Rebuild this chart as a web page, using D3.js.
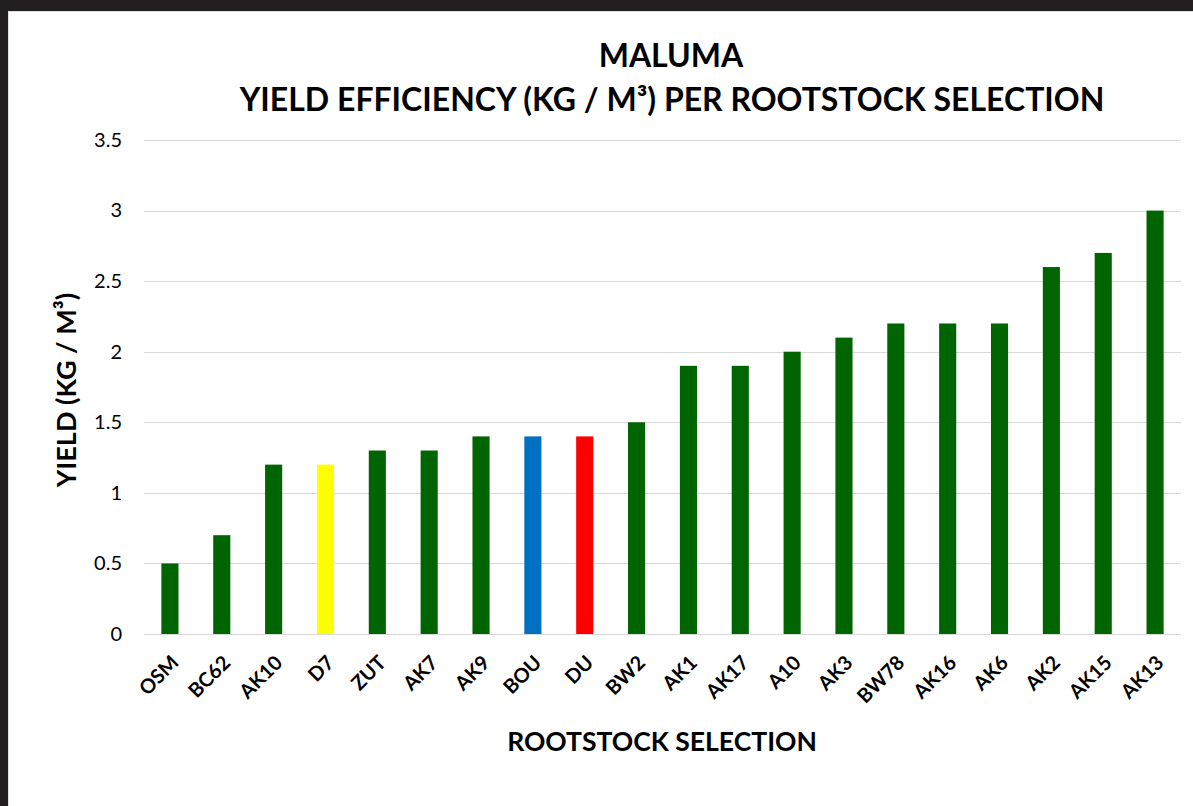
<!DOCTYPE html>
<html>
<head>
<meta charset="utf-8">
<script src="https://cdn.jsdelivr.net/npm/d3@7.9.0/dist/d3.min.js"></script>
<style>
  html, body { margin: 0; padding: 0; background: #231f20; }
  svg { display: block; }
  text { font-family: Lato, "Open Sans", sans-serif; fill: #000; }
</style>
</head>
<body>
<svg id="chart" width="1193" height="806"></svg>
<script>
const rootstocks = ['OSM','BC62','AK10','D7','ZUT','AK7','AK9','BOU','DU','BW2',
  'AK1','AK17','A10','AK3','BW78','AK16','AK6','AK2','AK15','AK13'];
const yieldValues = [0.5,0.7,1.2,1.2,1.3,1.3,1.4,1.4,1.4,1.5,
  1.9,1.9,2.0,2.1,2.2,2.2,2.2,2.6,2.7,3.0];
const yTicks = [0, 0.5, 1, 1.5, 2, 2.5, 3, 3.5];
// highlighted rootstocks get their own colour
const highlight = { D7: '#ffff00', BOU: '#0070c0', DU: '#ff0000' };
const baseColor = '#006400';

const data = rootstocks.map((r, i) => ({ name: r, value: yieldValues[i] }));

const svg = d3.select('#chart');

// page (white sheet inside dark frame)
svg.append('rect').attr('x', 8).attr('y', 11).attr('width', 1185).attr('height', 795)
  .attr('fill', '#fff');
svg.append('line').attr('x1', 8.5).attr('x2', 8.5).attr('y1', 11).attr('y2', 806)
  .attr('stroke', '#e0e0e0');
svg.append('line').attr('x1', 8).attr('x2', 1193).attr('y1', 11.5).attr('y2', 11.5)
  .attr('stroke', '#e0e0e0');

const margin = { left: 144, right: 12, top: 140, bottom: 172 };
const width = 1181 - margin.left;
const height = 634 - margin.top;

const g = svg.append('g').attr('transform', `translate(${margin.left},${margin.top})`);

const x = d3.scaleBand().domain(rootstocks).range([0, width]).paddingInner(0.67).paddingOuter(0.335);
const y = d3.scaleLinear().domain([0, 3.5]).range([height, 0]);

// gridlines
g.append('g')
  .selectAll('line')
  .data(yTicks)
  .join('line')
  .attr('x1', 0).attr('x2', width)
  .attr('y1', d => Math.round(y(d)) + 0.5).attr('y2', d => Math.round(y(d)) + 0.5)
  .attr('stroke', '#d9d9d9').attr('stroke-width', 1.2);

// y tick labels
const yAxis = g.append('g')
  .call(d3.axisLeft(y).tickValues(yTicks).tickSize(0).tickPadding(22).tickFormat(d3.format('')));
yAxis.select('.domain').remove();
yAxis.selectAll('text')
  .style('font-family', 'Lato, sans-serif')
  .style('font-size', '20px')
  .attr('fill', '#000');

// bars
g.append('g')
  .selectAll('rect')
  .data(data)
  .join('rect')
  .attr('x', d => x(d.name))
  .attr('y', d => y(d.value))
  .attr('width', x.bandwidth())
  .attr('height', d => y(0) - y(d.value))
  .attr('fill', d => highlight[d.name] || baseColor);

// x tick labels
const xAxis = g.append('g')
  .attr('transform', `translate(0,${height})`)
  .call(d3.axisBottom(x).tickSize(0).tickPadding(0));
xAxis.select('.domain').remove();
xAxis.selectAll('text')
  .style('font-family', 'Lato, sans-serif')
  .style('font-size', '20px')
  .style('font-weight', 'bold')
  .attr('fill', '#000')
  .attr('text-anchor', 'end')
  .attr('dy', 0)
  .attr('transform', 'translate(10,30) rotate(-45)');

// titles
svg.append('text')
  .attr('x', 671).attr('y', 67)
  .attr('text-anchor', 'middle')
  .style('font-size', '32px').style('font-weight', 'bold')
  .text('MALUMA');
svg.append('text')
  .attr('x', 672).attr('y', 111)
  .attr('text-anchor', 'middle')
  .style('font-size', '32px').style('font-weight', 'bold')
  .text('YIELD EFFICIENCY (KG / M³) PER ROOTSTOCK SELECTION');

svg.append('text')
  .attr('x', 662).attr('y', 751)
  .attr('text-anchor', 'middle')
  .style('font-size', '26.5px').style('font-weight', 'bold')
  .text('ROOTSTOCK SELECTION');

svg.append('text')
  .attr('transform', 'translate(76,390) rotate(-90)')
  .attr('text-anchor', 'middle')
  .style('font-size', '27px').style('font-weight', 'bold')
  .text('YIELD (KG / M³)');
</script>
</body>
</html>
